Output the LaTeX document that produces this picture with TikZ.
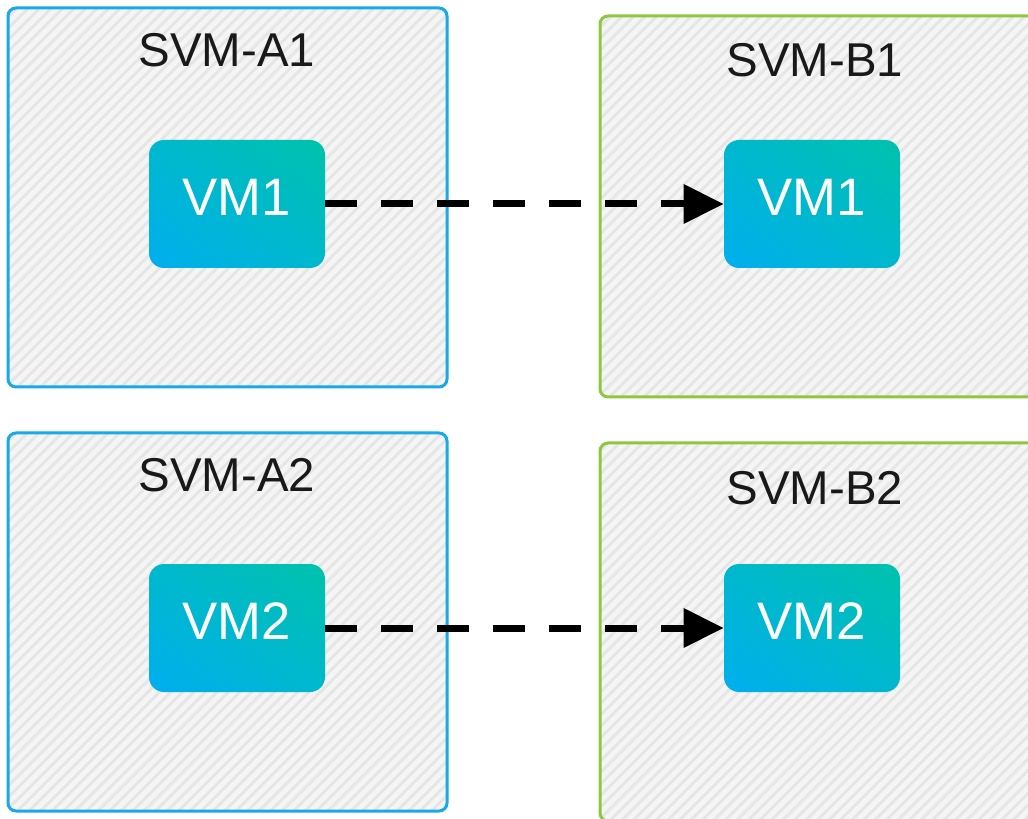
\documentclass[tikz,border=0pt]{standalone}
\usepackage{fontspec}
\setmainfont{Liberation Sans}
\usetikzlibrary{arrows.meta,shadings}

\definecolor{svmblue}{RGB}{24,168,236}
\definecolor{svmgreen}{RGB}{141,198,63}
\definecolor{svmfill}{RGB}{245,245,245}
\definecolor{hatchgray}{RGB}{230,230,230}
\definecolor{vmblue}{RGB}{0,174,239}
\definecolor{vmteal}{RGB}{0,194,172}
\definecolor{vmmid}{RGB}{0,184,206}

\begin{document}
\begin{tikzpicture}[
  svmbox/.style={draw=#1, line width=0.06cm, fill=svmfill, rounded corners=0.16cm,
    inner sep=0pt,
    path picture={\foreach \k in {0,0.23,...,22}
      \draw[hatchgray, line width=0.06cm]
        ([xshift=-12cm]path picture bounding box.south west) ++(\k,0) -- ++(12,12);}},
  svmlabel/.style={text=black!90, font=\fontsize{27}{31}\selectfont},
  vmbox/.style={rounded corners=0.3cm, minimum width=3.52cm, minimum height=2.56cm,
    lower left=vmblue, upper right=vmteal, upper left=vmmid, lower right=vmmid,
    text=white, text depth=0.28cm, font=\fontsize{30}{34}\selectfont},
  migr/.style={line width=0.14cm, dash pattern=on 0.64cm off 0.48cm,
    -{Triangle[length=0.8cm, width=0.76cm]}}
]

\useasboundingbox (0,0) rectangle (20.56,-16.38);

% SVM di partenza

\node[svmbox=svmblue, minimum width=8.78cm, minimum height=7.58cm] (svmA1) at (4.55,-3.95) {};
\node[svmbox=svmblue, minimum width=8.78cm, minimum height=7.56cm] (svmA2) at (4.55,-12.44) {};
\node[svmlabel] (lblA1) at (4.54,-1.0) {SVM-A1};
\node[svmlabel] (lblA2) at (4.54,-9.5) {SVM-A2};

% SVM di arrivo

\node[svmbox=svmgreen, minimum width=9cm, minimum height=7.62cm] (svmB1) at (16.5,-4.13) {};
\node[svmbox=svmgreen, minimum width=9cm, minimum height=7.56cm] (svmB2) at (16.5,-12.64) {};
\node[svmlabel] (lblB1) at (16.3,-1.2) {SVM-B1};
\node[svmlabel] (lblB2) at (16.3,-9.76) {SVM-B2};

% VM

\node[vmbox] (vmA1) at (4.74,-4.08) {VM1};
\node[vmbox] (vmB1) at (16.24,-4.08) {VM1};
\node[vmbox] (vmA2) at (4.74,-12.56) {VM2};
\node[vmbox] (vmB2) at (16.24,-12.56) {VM2};

\draw[migr] (vmA1) -- (vmB1);
\draw[migr] (vmA2) -- (vmB2);

\end{tikzpicture}
\end{document}
